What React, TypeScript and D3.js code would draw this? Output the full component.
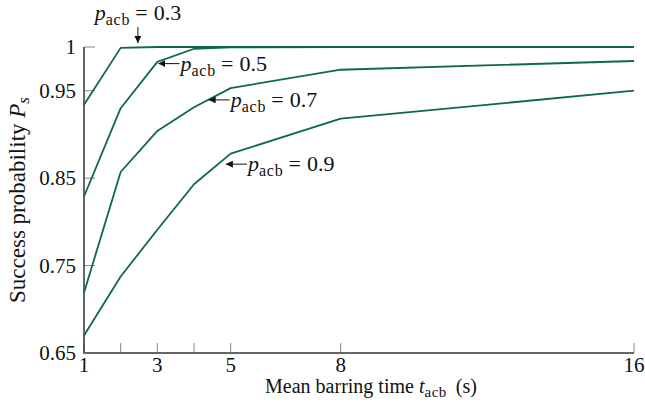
import React from "react";
import * as d3 from "d3";

const tValues = [1, 2, 3, 4, 5, 8, 16];
const p03 = [0.934, 0.999, 1.0, 1.0, 1.0, 1.0, 1.0];
const p05 = [0.829, 0.93, 0.983, 0.998, 0.9995, 1.0, 1.0];
const p07 = [0.719, 0.857, 0.904, 0.931, 0.953, 0.974, 0.984];
const p09 = [0.67, 0.7375, 0.791, 0.843, 0.878, 0.918, 0.95];
const seriesList = [p03, p05, p07, p09];

const yTicks = [0.65, 0.75, 0.85, 0.95, 1];
const yTickLabels = ["0.65", "0.75", "0.85", "0.95", "1"];
const xTicks = [1, 2, 3, 4, 5, 8, 16];
const xTickLabels = ["1", "", "3", "", "5", "8", "16"];

const labelValues = ["0.3", "0.5", "0.7", "0.9"];

const W = 645;
const H = 406;
const L = 84, R = 634, T = 47, B = 353;
const GREEN = "#0f6a40";
const FONT = "'Liberation Serif', 'Times New Roman', serif";

export default function App() {
  const x = d3.scaleLinear().domain([1, 16]).range([L, R]);
  const y = d3.scaleLinear().domain([0.65, 1]).range([B, T]);
  const line = d3
    .line<number>()
    .x((_, i) => x(tValues[i]))
    .y((d) => y(d));

  const ann = [
    { tip: [2.47, 1.0], dir: "down", text: labelValues[0] },
    { tip: [3.03, 0.981], dir: "left", text: labelValues[1] },
    { tip: [4.4, 0.9395], dir: "left", text: labelValues[2] },
    { tip: [4.87, 0.866], dir: "left", text: labelValues[3] },
  ];

  const label = (px: number, py: number, v: string, anchor: string) => (
    <text x={px} y={py} fontFamily={FONT} fontSize={22} textAnchor={anchor} fill="#111">
      <tspan fontStyle="italic">p</tspan>
      <tspan fontSize={16} dy={5} letterSpacing={0.8}>acb</tspan>
      <tspan dy={-5} dx={5}>=</tspan>
      <tspan dx={6}>{v}</tspan>
    </text>
  );

  return (
    <div style={{ position: "absolute", left: 0, top: 0 }}>
      <svg width={W} height={H} viewBox={`0 0 ${W} ${H}`}>
        <rect width={W} height={H} fill="#fff" />
        <defs>
          <marker id="ah" viewBox="0 0 10 10" refX="10" refY="5" markerWidth="7" markerHeight="7" orient="auto" markerUnits="userSpaceOnUse">
            <path d="M0,0 L10,5 L0,10 z" fill="#111" />
          </marker>
        </defs>
        {yTicks.map((t, i) => (
          <g key={"yt" + i}>
            <line x1={L} x2={L + 11} y1={y(t)} y2={y(t)} stroke="#888" strokeWidth={1} />
            <text x={76} y={y(t) + 7} fontFamily={FONT} fontSize={21} textAnchor="end" fill="#111">
              {yTickLabels[i]}
            </text>
          </g>
        ))}
        {xTicks.map((t, i) => (
          <g key={"xt" + i}>
            <line x1={x(t)} x2={x(t)} y1={B} y2={B - 10} stroke="#888" strokeWidth={1} />
            <text x={x(t)} y={372} fontFamily={FONT} fontSize={21} textAnchor="middle" fill="#111">
              {xTickLabels[i]}
            </text>
          </g>
        ))}
        <line x1={L} x2={L} y1={T} y2={B + 1} stroke="#333" strokeWidth={1.5} />
        <line x1={L} x2={R} y1={B} y2={B} stroke="#666" strokeWidth={2} />
        {seriesList.map((s, i) => (
          <path key={"s" + i} d={line(s) || ""} fill="none" stroke={GREEN} strokeWidth={1.8} strokeLinejoin="round" />
        ))}
        {ann.map((a, i) => {
          const tx = x(a.tip[0]);
          const ty = y(a.tip[1]);
          if (a.dir === "down") {
            return (
              <g key={"a" + i}>
                <line x1={tx} x2={tx} y1={ty - 20} y2={ty - 4} stroke="#111" strokeWidth={1} markerEnd="url(#ah)" />
                {label(tx, ty - 27, a.text, "middle")}
              </g>
            );
          }
          return (
            <g key={"a" + i}>
              <line x1={tx + 21} x2={tx} y1={ty} y2={ty} stroke="#111" strokeWidth={1} markerEnd="url(#ah)" />
              {label(tx + 22, ty + 7, a.text, "start")}
            </g>
          );
        })}
        <text x={371} y={393} fontFamily={FONT} fontSize={20} textAnchor="middle" fill="#111">
          <tspan>Mean barring time </tspan>
          <tspan fontStyle="italic">t</tspan>
          <tspan fontSize={15} dy={4} letterSpacing={0.5}>acb</tspan>
          <tspan dy={-4} dx={9}>(s)</tspan>
        </text>
        <text transform={`translate(25,200) rotate(-90)`} fontFamily={FONT} fontSize={23} textAnchor="middle" fill="#111">
          <tspan>Success probability </tspan>
          <tspan fontStyle="italic">P</tspan>
          <tspan fontSize={17} fontStyle="italic" dy={4}>s</tspan>
        </text>
      </svg>
    </div>
  );
}
